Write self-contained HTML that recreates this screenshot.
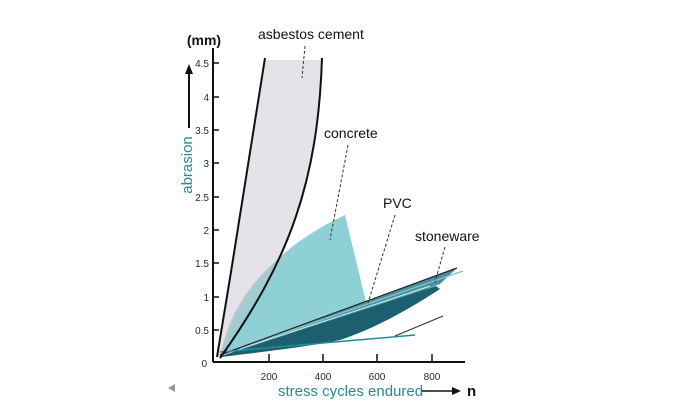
<!DOCTYPE html>
<html><head><meta charset="utf-8"><style>
html,body{margin:0;padding:0;background:#fff;}
svg{display:block;}
text{font-family:"Liberation Sans",sans-serif;}
</style></head><body>
<svg width="700" height="407" viewBox="0 0 700 407" xmlns="http://www.w3.org/2000/svg">
<rect width="700" height="407" fill="#fff"/>
<!-- asbestos fill -->
<path d="M218,356 C235,250 255,120 264,60 L322,60 C318,180 290,260 220,358 Z" fill="#e4e3e9"/>
<!-- concrete fill -->
<path d="M220,356 C235,300 270,250 345,215 L366,302 C320,320 260,340 220,356 Z" fill="#8fd0d7"/>
<path d="M220,356 C230,310 250,280 290,250 C260,290 240,320 222,356 Z" fill="#a9c9cc" opacity="0.8"/>
<!-- PVC band -->
<path d="M220,356 L457,268 L440,284 C360,315 290,338 222,357 Z" fill="#4a8f9c"/>
<!-- stoneware dark band -->
<path d="M222,356 C300,330 380,305 436,286 L440,289 C400,315 370,330 340,340 C300,348 260,352 222,357 Z" fill="#1c6070"/>
<path d="M222,355 C290,332 360,310 430,286" stroke="#bfe6ea" stroke-width="1.2" fill="none"/>
<line x1="220" y1="355" x2="463" y2="271" stroke="#7cc6cc" stroke-width="1.3"/>
<line x1="220" y1="355" x2="457" y2="268" stroke="#222" stroke-width="1.2"/>
<line x1="220" y1="352" x2="415" y2="335" stroke="#1d8f9a" stroke-width="1.5"/>
<!-- asbestos lines -->
<path d="M217,357 C235,250 255,120 265,58" stroke="#111" stroke-width="2" fill="none"/>
<path d="M220,358 C290,260 318,180 322,58" stroke="#111" stroke-width="2" fill="none"/>
<!-- leaders -->
<line x1="305" y1="46" x2="302" y2="78" stroke="#333" stroke-width="1" stroke-dasharray="3,2"/>
<line x1="348" y1="145" x2="330" y2="240" stroke="#333" stroke-width="1" stroke-dasharray="3,2"/>
<line x1="395" y1="215" x2="368" y2="303" stroke="#333" stroke-width="1" stroke-dasharray="3,2"/>
<line x1="445" y1="247" x2="435" y2="282" stroke="#333" stroke-width="1" stroke-dasharray="3,2"/>
<line x1="395" y1="336" x2="443" y2="316" stroke="#333" stroke-width="1"/>
<!-- axes -->
<line x1="213" y1="48" x2="213" y2="362" stroke="#111" stroke-width="2"/>
<line x1="213" y1="362" x2="465" y2="362" stroke="#111" stroke-width="2"/>
<g stroke="#111" stroke-width="1.5">
<line x1="213" y1="63" x2="219" y2="63"/><line x1="213" y1="97" x2="219" y2="97"/>
<line x1="213" y1="130" x2="219" y2="130"/><line x1="213" y1="163" x2="219" y2="163"/>
<line x1="213" y1="197" x2="219" y2="197"/><line x1="213" y1="230" x2="219" y2="230"/>
<line x1="213" y1="263" x2="219" y2="263"/><line x1="213" y1="297" x2="219" y2="297"/>
<line x1="213" y1="330" x2="219" y2="330"/>
<line x1="269" y1="354" x2="269" y2="362"/><line x1="323" y1="354" x2="323" y2="362"/>
<line x1="377" y1="354" x2="377" y2="362"/><line x1="432" y1="354" x2="432" y2="362"/>
</g>
<g font-size="10" fill="#1c2a3a" text-anchor="end" font-family="Liberation Sans Narrow,Liberation Sans,sans-serif">
<text x="209" y="67">4.5</text><text x="209" y="101">4</text><text x="209" y="134">3.5</text>
<text x="209" y="167">3</text><text x="209" y="201">2.5</text><text x="209" y="234">2</text>
<text x="209" y="267">1.5</text><text x="209" y="301">1</text><text x="209" y="334">0.5</text>
<text x="207" y="367">0</text>
</g>
<g font-size="10" fill="#1c2a3a" text-anchor="middle">
<text x="269" y="380">200</text><text x="323" y="380">400</text><text x="377" y="380">600</text><text x="432" y="380">800</text>
</g>
<text x="204" y="45" font-size="14" font-weight="bold" fill="#111" text-anchor="middle">(mm)</text>
<text x="258" y="39" font-size="14" fill="#111">asbestos cement</text>
<text x="324" y="138" font-size="14" fill="#111">concrete</text>
<text x="383" y="208" font-size="14" fill="#111">PVC</text>
<text x="415" y="241" font-size="14" fill="#111">stoneware</text>
<text transform="translate(192,165) rotate(-90)" font-size="15" fill="#2a8a92" text-anchor="middle">abrasion</text>
<line x1="189" y1="128" x2="189" y2="70" stroke="#111" stroke-width="2"/>
<path d="M185,74 L189,64 L193,74 Z" fill="#111"/>
<text x="278" y="396" font-size="15" fill="#2a8a92">stress cycles endured</text>
<line x1="422" y1="391" x2="455" y2="391" stroke="#111" stroke-width="1.5"/>
<path d="M452,387 L461,391 L452,395 Z" fill="#111"/>
<text x="467" y="396" font-size="15" font-weight="bold" fill="#111">n</text>
<path d="M175,384 L168,388 L175,392 Z" fill="#999"/>
</svg>
</body></html>
